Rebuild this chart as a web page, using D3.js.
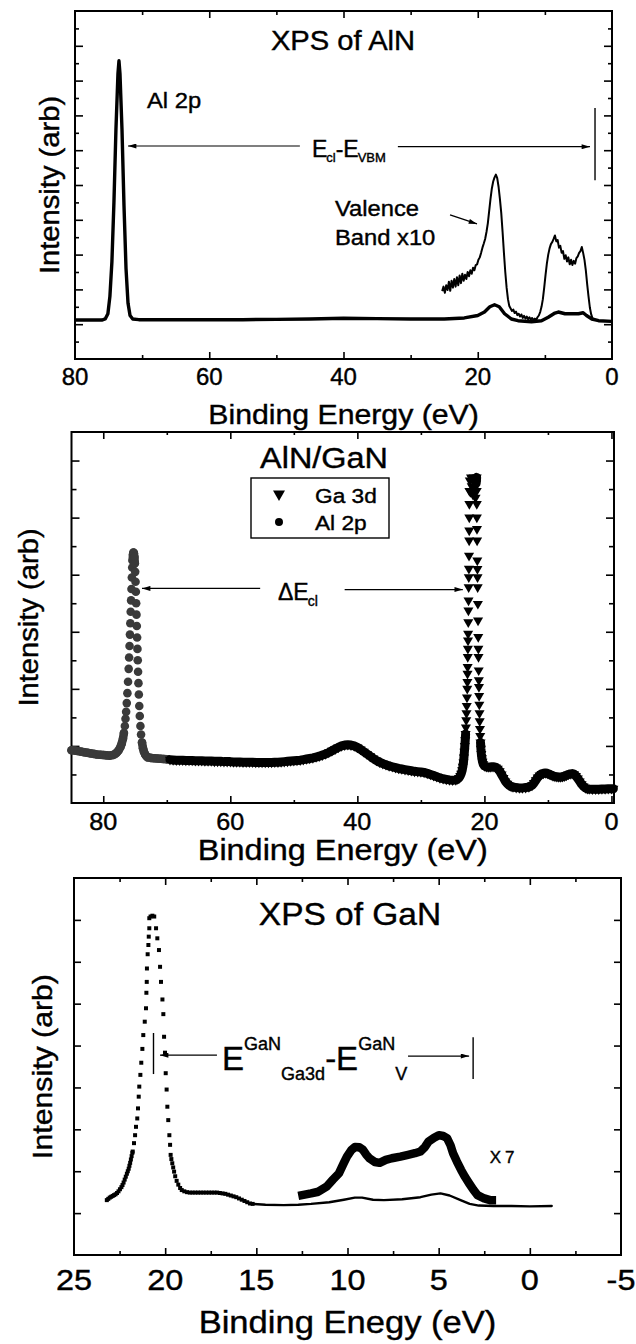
<!DOCTYPE html>
<html>
<head>
<meta charset="utf-8">
<script src="https://cdn.jsdelivr.net/npm/d3@7"></script>
<style>
  html, body { margin: 0; padding: 0; background: #fff; }
  svg text { font-family: "Liberation Sans", Arial, Helvetica, sans-serif; fill: #000; stroke: #000; stroke-width: 0.4px; }
</style>
</head>
<body>
<svg id="chart" width="636" height="1344"></svg>
<script>
// ---------- Panel 1: XPS of AlN (binding energy eV, intensity arb.) ----------
const alnSpectrum = [[80,1.12],[78,1.12],[76,1.12],[75.5,1.15],[75.1,1.3],[74.8,1.8],[74.5,2.8],[74.2,4.5],[73.9,6.6],[73.6,8.2],[73.45,8.57],[73.3,8.2],[73.0,6.6],[72.7,4.4],[72.4,2.6],[72.1,1.6],[71.8,1.25],[71.4,1.15],[70.5,1.13],[65,1.13],[60,1.13],[55,1.13],[50,1.14],[45,1.15],[40,1.17],[35,1.16],[30,1.15],[25,1.15],[22,1.18],[20,1.25],[19,1.35],[18.2,1.5],[17.5,1.56],[16.8,1.5],[16,1.3],[15,1.15],[14,1.1],[12,1.07],[10.5,1.1],[9.5,1.2],[8.5,1.32],[8,1.35],[7,1.3],[6,1.3],[5,1.3],[4.3,1.33],[3.8,1.25],[3,1.15],[2,1.1],[0,1.08]];
const alnValenceX10 = [[25.3,1.95],[25.1,2.08],[24.9,1.9],[24.7,2.12],[24.5,1.98],[24.3,2.22],[24.1,1.96],[23.9,2.25],[23.7,2.05],[23.5,2.3],[23.3,2.08],[23.1,2.35],[22.9,2.12],[22.7,2.4],[22.5,2.18],[22.3,2.45],[22.1,2.25],[21.9,2.42],[21.7,2.3],[21.5,2.5],[21.3,2.38],[21.1,2.55],[20.9,2.45],[20.7,2.62],[20.5,2.55],[20.3,2.7],[20.1,2.72],[19.9,2.85],[19.7,2.92],[19.5,3.05],[19.3,3.2],[19.1,3.32],[18.9,3.45],[18.7,3.65],[18.5,3.9],[18.3,4.25],[18.1,4.6],[17.9,4.9],[17.7,5.1],[17.5,5.22],[17.3,5.3],[17.1,5.2],[16.9,4.95],[16.7,4.6],[16.5,4.2],[16.3,3.65],[16.1,3.05],[15.9,2.5],[15.7,2.05],[15.5,1.72],[15.3,1.52],[15.1,1.45],[14.9,1.38],[14.7,1.42],[14.5,1.32],[14.3,1.36],[14.1,1.26],[13.9,1.3],[13.7,1.22],[13.5,1.28],[13.3,1.18],[13.1,1.24],[12.9,1.16],[12.7,1.22],[12.5,1.14],[12.3,1.2],[12.1,1.13],[11.9,1.18],[11.7,1.12],[11.5,1.16],[11.3,1.12],[11.1,1.2],[10.9,1.25],[10.7,1.35],[10.5,1.5],[10.3,1.72],[10.1,2.05],[9.9,2.42],[9.7,2.75],[9.5,3.0],[9.3,3.18],[9.1,3.3],[8.9,3.36],[8.7,3.45],[8.5,3.55],[8.3,3.38],[8.1,3.42],[7.9,3.2],[7.7,3.25],[7.5,3.05],[7.3,3.1],[7.1,2.88],[6.9,2.98],[6.7,2.8],[6.5,2.92],[6.3,2.72],[6.1,2.85],[5.9,2.7],[5.7,2.82],[5.5,2.74],[5.3,2.9],[5.1,2.95],[4.9,3.05],[4.7,3.1],[4.5,3.22],[4.3,3.05],[4.1,2.85],[3.9,2.55],[3.7,2.15],[3.5,1.8],[3.3,1.48],[3.1,1.28],[2.9,1.17],[2.7,1.12]];
const alnTickLabels = [80, 60, 40, 20, 0];

// ---------- Panel 2: AlN/GaN, Al 2p (circles) and Ga 3d (triangles) ----------
const al2pPoints = [[85,1.85],[84.5,1.84],[84,1.82],[83.5,1.8],[83,1.78],[82.5,1.76],[82,1.74],[81.5,1.72],[81,1.7],[80.5,1.69],[80,1.68],[79.5,1.67],[79,1.66],[78.5,1.68],[78.2,1.71],[77.9,1.76],[77.6,1.84],[77.3,1.96],[77.1,2.08],[76.9,2.25],[76.75,2.45],[76.6,2.7],[76.5,2.95],[76.4,3.2],[76.3,3.5],[76.2,3.85],[76.1,4.25],[76.0,4.7],[75.93,5.1],[75.86,5.5],[75.8,5.9],[75.74,6.3],[75.68,6.7],[75.62,7.1],[75.56,7.5],[75.5,7.9],[75.44,8.25],[75.38,8.5],[75.32,8.7],[75.25,8.78],[75.18,8.75],[75.1,8.62],[75.03,8.4],[74.97,8.1],[74.92,7.75],[74.87,7.4],[74.82,7.0],[74.77,6.6],[74.72,6.2],[74.67,5.8],[74.62,5.4],[74.57,5.0],[74.52,4.6],[74.46,4.2],[74.4,3.8],[74.33,3.4],[74.25,3.05],[74.15,2.7],[74.05,2.4],[73.9,2.12],[73.75,1.92],[73.6,1.8],[73.4,1.7],[73.2,1.64],[73,1.6],[72.5,1.58],[72,1.57],[71.5,1.56],[71,1.55],[70.5,1.54],[70,1.53]];
const ga3dPoints = [[69.5,1.52],[69,1.51],[68.5,1.5],[68,1.5],[67.5,1.5],[67,1.49],[66.5,1.49],[66,1.49],[65.5,1.48],[65,1.48],[64.5,1.48],[64,1.47],[63.5,1.47],[63,1.47],[62.5,1.46],[62,1.46],[61.5,1.46],[61,1.45],[60.5,1.45],[60,1.45],[59.5,1.44],[59,1.44],[58.5,1.44],[58,1.43],[57.5,1.43],[57,1.43],[56.5,1.43],[56,1.42],[55.5,1.42],[55,1.42],[54.5,1.42],[54,1.42],[53.5,1.42],[53,1.43],[52.5,1.43],[52,1.44],[51.5,1.45],[51,1.46],[50.5,1.47],[50,1.48],[49.5,1.49],[49,1.5],[48.5,1.52],[48,1.54],[47.5,1.56],[47,1.58],[46.5,1.61],[46,1.64],[45.5,1.68],[45,1.72],[44.5,1.77],[44,1.83],[43.5,1.89],[43,1.95],[42.5,2.0],[42,2.03],[41.5,2.04],[41,2.03],[40.5,2.0],[40,1.95],[39.5,1.88],[39,1.8],[38.5,1.72],[38,1.64],[37.5,1.56],[37,1.49],[36.5,1.43],[36,1.38],[35.5,1.34],[35,1.3],[34.5,1.27],[34,1.24],[33.5,1.21],[33,1.19],[32.5,1.17],[32,1.15],[31.5,1.13],[31,1.11],[30.5,1.1],[30,1.09],[29.5,1.07],[29,1.04],[28.5,1.0],[28,0.96],[27.5,0.92],[27,0.88],[26.5,0.85],[26,0.83],[25.5,0.81],[25,0.8],[24.5,0.81],[24.2,0.84],[24.0,0.88],[23.8,0.95],[23.65,1.03],[23.5,1.15],[23.4,1.27],[23.3,1.42],[23.22,1.6],[23.15,1.8],[23.08,2.0],[23.02,2.2],[22.96,2.42],[22.91,2.65],[22.86,2.9],[22.82,3.15],[22.78,3.4],[22.74,3.7],[22.7,4.01],[22.68,4.24],[22.66,4.53],[22.64,4.77],[22.62,5.12],[22.6,5.41],[22.58,5.7],[22.56,5.93],[22.54,6.34],[22.52,6.75],[22.5,7.1],[22.48,7.56],[22.46,7.91],[22.44,8.21],[22.42,8.67],[22.4,9.2],[22.39,9.55],[22.38,10.01],[22.37,10.48],[22.36,10.94],[22.3,11.3],[22.2,10.9],[22.1,11.41],[22.0,11.1],[21.9,11.35],[21.8,10.8],[21.7,11.41],[21.6,11.0],[21.5,11.3],[21.4,10.7],[21.3,11.2],[21.22,11.41],[21.21,10.94],[21.2,10.48],[21.19,10.01],[21.17,9.6],[21.15,9.2],[21.12,8.5],[21.1,8.2],[21.08,7.91],[21.06,7.56],[21.03,6.98],[21.0,6.4],[20.97,5.82],[20.95,5.41],[20.93,5.12],[20.9,4.65],[20.88,4.3],[20.86,4.07],[20.83,3.75],[20.8,3.45],[20.77,3.15],[20.74,2.87],[20.7,2.6],[20.66,2.35],[20.61,2.12],[20.55,1.9],[20.48,1.72],[20.4,1.57],[20.3,1.45],[20.18,1.36],[20,1.3],[19.7,1.27],[19.4,1.26],[19.1,1.26],[18.8,1.27],[18.5,1.27],[18.2,1.25],[17.9,1.2],[17.6,1.12],[17.3,1.0],[17.0,0.88],[16.7,0.76],[16.4,0.68],[16.1,0.62],[15.8,0.58],[15.5,0.56],[15,0.54],[14.5,0.53],[14,0.53],[13.5,0.54],[13,0.56],[12.5,0.62],[12.2,0.7],[11.9,0.8],[11.6,0.9],[11.3,0.97],[11,1.02],[10.7,1.04],[10.4,1.05],[10.1,1.04],[9.8,1.01],[9.5,0.98],[9.2,0.95],[8.9,0.93],[8.6,0.92],[8.3,0.91],[8,0.91],[7.7,0.92],[7.4,0.94],[7.1,0.97],[6.8,1.0],[6.5,1.02],[6.2,1.03],[5.9,1.01],[5.6,0.95],[5.3,0.86],[5,0.76],[4.7,0.66],[4.4,0.58],[4.1,0.53],[3.8,0.5],[3.5,0.49],[3,0.48],[2.5,0.48],[2,0.48],[1.5,0.49],[1,0.49],[0.5,0.5],[0,0.5],[-0.3,0.5]];
const interfaceTickLabels = [80, 60, 40, 20, 0];

// ---------- Panel 3: XPS of GaN ----------
const ganCorePoints = [[23.2,1.31],[23.12,1.34],[23.04,1.37],[22.96,1.39],[22.88,1.41],[22.8,1.43],[22.72,1.45],[22.64,1.48],[22.56,1.52],[22.48,1.57],[22.4,1.62],[22.34,1.67],[22.28,1.73],[22.22,1.8],[22.16,1.87],[22.1,1.94],[22.05,2.0],[22.0,2.06],[21.96,2.13],[21.92,2.2],[21.88,2.28],[21.84,2.36],[21.8,2.44],[21.78,2.47],[21.71,2.67],[21.65,2.86],[21.6,3.06],[21.53,3.26],[21.49,3.5],[21.45,3.78],[21.42,4.02],[21.36,4.3],[21.31,4.59],[21.25,4.92],[21.2,5.25],[21.12,5.57],[21.05,5.89],[21.03,6.26],[21.01,6.52],[21.0,6.84],[20.96,7.18],[20.92,7.4],[20.9,7.6],[20.87,7.8],[20.87,8.04],[20.8,8.08],[20.7,8.1],[20.6,8.08],[20.5,7.8],[20.43,7.56],[20.34,7.28],[20.28,6.88],[20.23,6.52],[20.15,6.1],[20.1,5.75],[20.06,5.21],[20.01,4.83],[19.97,4.34],[19.92,3.95],[19.88,3.54],[19.83,3.22],[19.77,2.86],[19.73,2.63],[19.7,2.39],[19.66,2.29],[19.61,2.19],[19.56,2.09],[19.51,1.99],[19.45,1.88],[19.37,1.77],[19.28,1.68],[19.18,1.6],[19.09,1.55],[18.95,1.52],[18.8,1.5],[18.65,1.49],[18.5,1.49],[18.35,1.49],[18.2,1.49],[18.05,1.49],[17.9,1.49],[17.75,1.49],[17.6,1.49],[17.45,1.49],[17.3,1.49],[17.15,1.49],[17.0,1.48],[16.85,1.47],[16.7,1.46],[16.55,1.44],[16.4,1.42],[16.25,1.4],[16.1,1.38],[15.95,1.35],[15.8,1.32],[15.65,1.29],[15.5,1.26],[15.35,1.23],[15.2,1.22]];
const ganValence = [[15.2,1.22],[14.5,1.2],[13.5,1.19],[12.7,1.2],[12.0,1.22],[11.0,1.26],[10.2,1.32],[9.6,1.37],[9.2,1.37],[8.6,1.32],[8.0,1.31],[7.0,1.33],[6.0,1.38],[5.4,1.44],[4.9,1.47],[4.4,1.42],[3.8,1.31],[3.3,1.22],[2.8,1.18],[2.0,1.17],[1.0,1.17],[0,1.16],[-1.2,1.17]];
const ganValenceX7 = [[12.7,1.41],[12.0,1.47],[11.6,1.51],[11.15,1.63],[10.8,1.8],[10.47,1.95],[10.2,2.2],[10.03,2.35],[9.8,2.5],[9.59,2.58],[9.35,2.57],[9.15,2.51],[8.98,2.4],[8.8,2.31],[8.5,2.22],[8.24,2.2],[7.9,2.27],[7.57,2.31],[7.1,2.35],[6.68,2.39],[6.3,2.43],[6.0,2.47],[5.75,2.58],[5.55,2.71],[5.25,2.8],[4.99,2.86],[4.75,2.84],[4.54,2.79],[4.35,2.62],[4.21,2.43],[4.0,2.23],[3.77,2.03],[3.55,1.86],[3.33,1.71],[3.1,1.56],[2.87,1.43],[2.5,1.35],[2.18,1.31],[1.85,1.31]];
const ganTickLabels = [25, 20, 15, 10, 5, 0, -5];

// ---------- drawing ----------
const svg = d3.select("#chart");

const defs = svg.append("defs");
defs.append("marker")
  .attr("id", "head")
  .attr("viewBox", "0 0 10 6")
  .attr("refX", 10).attr("refY", 3)
  .attr("markerWidth", 9).attr("markerHeight", 5)
  .attr("markerUnits", "userSpaceOnUse")
  .attr("orient", "auto")
  .append("path").attr("d", "M0,0L10,3L0,6Z").attr("fill", "#000");

function addText(g, str, x, y, size, anchor = "start", sx = 1.08, rot = 0) {
  return g.append("text")
    .attr("transform", `translate(${x},${y})` + (rot ? ` rotate(${rot})` : "") + ` scale(${sx},1)`)
    .attr("text-anchor", anchor)
    .style("font-size", size + "px")
    .text(str);
}

function panel(o) {
  const g = svg.append("g");
  const x = d3.scaleLinear().domain(o.xDomain).range([o.left, o.right]);
  const y = d3.scaleLinear().domain(o.yDomain).range([o.bottom, o.top]);

  const tickSet = (axis, tx, ty, vals, len) => {
    g.append("g")
      .attr("transform", `translate(${tx},${ty})`)
      .call(axis.tickValues(vals).tickSize(-len).tickFormat(""))
      .call(s => {
        s.select(".domain").remove();
        s.selectAll("text").remove();
        s.selectAll("line").attr("stroke", "#000").attr("stroke-width", 1.6);
      });
  };
  tickSet(d3.axisBottom(x), 0, o.bottom, o.xMajor, o.xMajorLen);
  tickSet(d3.axisBottom(x), 0, o.bottom, o.xMinor, o.xMinorLen);
  tickSet(d3.axisTop(x), 0, o.top, o.xMajor, o.xMajorLen);
  tickSet(d3.axisTop(x), 0, o.top, o.xMinor, o.xMinorLen);
  tickSet(d3.axisLeft(y), o.left, 0, o.yMajor, o.yMajorLen);
  tickSet(d3.axisRight(y), o.right, 0, o.yMajor, o.yMajorLen);
  if (o.yMinor) {
    tickSet(d3.axisLeft(y), o.left, 0, o.yMinor, o.yMinorLen);
    tickSet(d3.axisRight(y), o.right, 0, o.yMinor, o.yMinorLen);
  }

  g.append("rect")
    .attr("x", o.left).attr("y", o.top)
    .attr("width", o.right - o.left).attr("height", o.bottom - o.top)
    .attr("fill", "none").attr("stroke", "#000").attr("stroke-width", 2);

  o.xLabels.forEach(v => addText(g, String(v), x(v), o.labelY, o.labelSize, "middle", o.labelStretch));
  addText(g, o.xTitle, (o.left + o.right) / 2, o.xTitleY, o.xTitleSize, "middle");
  addText(g, "Intensity (arb)", o.yTitleX, (o.top + o.bottom) / 2, o.yTitleSize, "middle", 1.08, -90);
  addText(g, o.title, o.titleX, o.titleY, o.titleSize, "middle");
  return { g, x, y };
}

function arrow(g, x1, y1, x2, y2, w = 1.3) {
  g.append("line").attr("x1", x1).attr("y1", y1).attr("x2", x2).attr("y2", y2)
    .attr("stroke", "#000").attr("stroke-width", w).attr("marker-end", "url(#head)");
}
function rule(g, x1, y1, x2, y2, w = 1.4) {
  g.append("line").attr("x1", x1).attr("y1", y1).attr("x2", x2).attr("y2", y2)
    .attr("stroke", "#000").attr("stroke-width", w);
}

// Dense scans: neighbouring samples that overlap on screen merge into a solid band,
// while widely spaced samples on steep flanks stay as separate symbols.
function scanBand(g, pts, x, y, width, color, gap) {
  const runs = [];
  let cur = [pts[0]];
  for (let i = 1; i < pts.length; i++) {
    const dx = x(pts[i][0]) - x(pts[i - 1][0]);
    const dy = y(pts[i][1]) - y(pts[i - 1][1]);
    if (Math.hypot(dx, dy) < gap) cur.push(pts[i]);
    else { runs.push(cur); cur = [pts[i]]; }
  }
  runs.push(cur);
  const line = d3.line().x(d => x(d[0])).y(d => y(d[1]));
  g.append("g").selectAll("path").data(runs.filter(r => r.length > 1)).join("path")
    .attr("d", line).attr("fill", "none").attr("stroke", color)
    .attr("stroke-width", width).attr("stroke-linejoin", "round").attr("stroke-linecap", "round");
}

// ----- Panel 1 -----
const p1 = panel({
  left: 75, right: 612, top: 11, bottom: 359,
  xDomain: [80, 0], yDomain: [0, 10],
  xMajor: [60, 40, 20], xMinor: [70, 50, 30, 10], xMajorLen: 7, xMinorLen: 4,
  yMajor: d3.range(1, 10), yMinor: d3.range(0.5, 10, 1), yMajorLen: 8, yMinorLen: 4,
  xLabels: alnTickLabels, labelY: 385, labelSize: 24, labelStretch: 1.0,
  xTitle: "Binding Energy (eV)", xTitleY: 424, xTitleSize: 28,
  yTitleX: 59, yTitleSize: 27,
  title: "XPS of AlN", titleX: 343, titleY: 50, titleSize: 27
});
{
  const { g, x, y } = p1;
  const line = d3.line().x(d => x(d[0])).y(d => y(d[1])).curve(d3.curveLinear);
  g.append("path").datum(alnSpectrum).attr("d", line)
    .attr("fill", "none").attr("stroke", "#000").attr("stroke-width", 3.4).attr("stroke-linejoin", "round");
  g.append("path").datum(alnValenceX10).attr("d", line)
    .attr("fill", "none").attr("stroke", "#000").attr("stroke-width", 2).attr("stroke-linejoin", "round");

  addText(g, "Al 2p", 147, 108, 22);
  addText(g, "Valence", 335, 216, 22);
  addText(g, "Band x10", 335, 245, 22);
  arrow(g, x(24.13), y(4.14), x(20.11), y(3.88), 1.3);

  // core level to valence band maximum separation
  arrow(g, x(46.5), y(6.12), x(72.1), y(6.12), 1.2);
  arrow(g, x(31.9), y(6.1), x(3.28), y(6.1), 1.2);
  rule(g, x(2.53), y(7.21), x(2.53), y(5.14), 1.4);
  const t = g.append("text").attr("transform", `translate(${x(44.7)},${y(5.8)})`).style("font-size", "23px");
  t.append("tspan").text("E");
  t.append("tspan").attr("dy", 5).attr("dx", -1).style("font-size", "13px").text("cl");
  t.append("tspan").attr("dy", -5).text("-E");
  t.append("tspan").attr("dy", 5).attr("dx", -1).style("font-size", "13px").text("VBM");
}

// ----- Panel 2 -----
const p2 = panel({
  left: 71.5, right: 614, top: 432, bottom: 803,
  xDomain: [85, -0.4], yDomain: [0, 13],
  xMajor: [80, 60, 40, 20, 0], xMinor: [70, 50, 30, 10], xMajorLen: 7, xMinorLen: 3,
  yMajor: [2, 4, 6, 8, 10, 12], yMinor: [1, 3, 5, 7, 9, 11], yMajorLen: 8, yMinorLen: 5,
  xLabels: interfaceTickLabels, labelY: 830, labelSize: 24, labelStretch: 1.05,
  xTitle: "Binding Energy (eV)", xTitleY: 860, xTitleSize: 30,
  yTitleX: 38, yTitleSize: 27,
  title: "AlN/GaN", titleX: 324, titleY: 468, titleSize: 30
});
{
  const { g, x, y } = p2;
  const circle = d3.symbol(d3.symbolCircle, 58)();
  const tri = d3.symbol(d3.symbolTriangle, 44)();
  scanBand(g, al2pPoints, x, y, 8.5, "#3a3a3a", 7);
  g.append("g").selectAll("path").data(al2pPoints).join("path")
    .attr("d", circle).attr("fill", "#3a3a3a")
    .attr("transform", d => `translate(${x(d[0])},${y(d[1])})`);
  scanBand(g, ga3dPoints, x, y, 9, "#000", 6.5);
  g.append("g").selectAll("path").data(ga3dPoints).join("path")
    .attr("d", tri).attr("fill", "#000")
    .attr("transform", d => `translate(${x(d[0])},${y(d[1])}) rotate(180)`);

  // legend
  const lg = g.append("g");
  lg.append("rect").attr("x", 251).attr("y", 478).attr("width", 138).attr("height", 60)
    .attr("fill", "#fff").attr("stroke", "#000").attr("stroke-width", 1.4);
  lg.append("path").attr("d", d3.symbol(d3.symbolTriangle, 62)()).attr("transform", "translate(279,494) rotate(180)");
  lg.append("path").attr("d", d3.symbol(d3.symbolCircle, 50)()).attr("transform", "translate(279,522)");
  addText(lg, "Ga 3d", 315, 503, 21);
  addText(lg, "Al 2p", 315, 530, 21);

  // core level separation
  arrow(g, x(55.3), y(7.52), x(73.9), y(7.52), 1.2);
  arrow(g, x(42.0), y(7.48), x(23.4), y(7.48), 1.2);
  const t = g.append("text").attr("transform", `translate(${x(52.5)},${y(7.11)})`).style("font-size", "23px");
  t.append("tspan").text("\u0394E");
  t.append("tspan").attr("dy", 6).attr("dx", -1).style("font-size", "14px").text("cl");
}

// ----- Panel 3 -----
const p3 = panel({
  left: 74, right: 621, top: 878, bottom: 1255,
  xDomain: [25, -5], yDomain: [0, 9],
  xMajor: [20, 15, 10, 5, 0], xMinor: [22.5, 17.5, 12.5, 7.5, 2.5, -2.5], xMajorLen: 7, xMinorLen: 4,
  yMajor: d3.range(1, 9), yMajorLen: 7,
  xLabels: ganTickLabels, labelY: 1290, labelSize: 30, labelStretch: 1.08,
  xTitle: "Binding Enegy (eV)", xTitleY: 1333, xTitleSize: 32,
  yTitleX: 52, yTitleSize: 28,
  title: "XPS of GaN", titleX: 350, titleY: 925, titleSize: 31
});
{
  const { g, x, y } = p3;
  const line = d3.line().x(d => x(d[0])).y(d => y(d[1]));
  g.append("path").datum(ganValence).attr("d", line)
    .attr("fill", "none").attr("stroke", "#000").attr("stroke-width", 2.4).attr("stroke-linejoin", "round").attr("stroke-linecap", "round");
  g.append("path").datum(ganValenceX7).attr("d", line)
    .attr("fill", "none").attr("stroke", "#000").attr("stroke-width", 8.5).attr("stroke-linejoin", "round");
  const sq = d3.symbol(d3.symbolSquare, 16)();
  g.append("g").selectAll("path").data(ganCorePoints).join("path")
    .attr("d", sq).attr("fill", "#000")
    .attr("transform", d => `translate(${x(d[0])},${y(d[1])})`);

  addText(g, "X7", x(1.41), y(2.2), 17, "middle", 1.0).style("letter-spacing", "4px");

  // Ga 3d to valence band edge separation
  rule(g, x(20.64), y(5.3), x(20.64), y(4.32), 1.4);
  arrow(g, x(17.16), y(4.77), x(20.28), y(4.77), 1.2);
  arrow(g, x(6.68), y(4.75), x(3.33), y(4.75), 1.2);
  rule(g, x(3.11), y(5.2), x(3.11), y(4.2), 1.4);
  const t = g.append("text").attr("transform", `translate(${x(16.88)},${y(4.42)})`).style("font-size", "33px");
  t.append("tspan").text("E");
  t.append("tspan").attr("dy", -20).style("font-size", "18px").text("GaN");
  t.append("tspan").attr("dy", 30).style("font-size", "18px").text("Ga3d");
  t.append("tspan").attr("dy", -10).text("-E");
  t.append("tspan").attr("dy", -20).style("font-size", "18px").text("GaN");
  t.append("tspan").attr("dy", 30).style("font-size", "18px").text("V");
}
</script>
</body>
</html>
